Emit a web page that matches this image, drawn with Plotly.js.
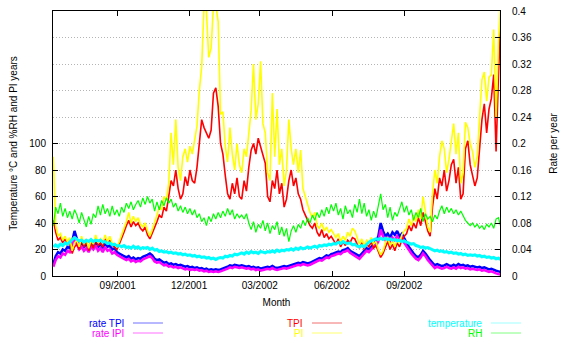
<!DOCTYPE html>
<html>
<head>
<meta charset="utf-8">
<script src="https://cdn.plot.ly/plotly-3.0.1.min.js"></script>
<style>html,body{margin:0;padding:0;background:#fff;}#chart{width:561px;height:339px;}</style>
</head>
<body>
<div id="chart"></div>
<script>
// sampling: one value every 3 days starting 2001-06-11
const startDate = '2001-06-11';
const stepDays = 3;

// rate TPI (per year, right axis)
const rateTPI = [
0.018,0.030,0.036,0.034,0.040,0.038,0.044,0.042,0.052,0.068,
0.056,0.046,0.050,0.044,0.048,0.042,0.050,0.046,0.052,0.044,
0.048,0.042,0.050,0.044,0.046,0.040,0.042,0.036,0.034,0.032,
0.030,0.028,0.030,0.026,0.028,0.025,0.027,0.026,0.029,0.030,
0.032,0.034,0.031,0.026,0.024,0.025,0.022,0.020,0.021,0.018,
0.019,0.017,0.018,0.016,0.017,0.015,0.014,0.015,0.013,0.014,
0.012,0.013,0.011,0.012,0.010,0.011,0.009,0.010,0.009,0.010,
0.009,0.010,0.011,0.013,0.014,0.016,0.015,0.017,0.016,0.015,
0.016,0.015,0.014,0.015,0.013,0.014,0.012,0.013,0.011,0.012,
0.013,0.014,0.013,0.015,0.013,0.012,0.013,0.014,0.015,0.014,
0.015,0.016,0.017,0.018,0.020,0.019,0.021,0.020,0.019,0.020,
0.022,0.024,0.025,0.027,0.026,0.029,0.031,0.030,0.033,0.034,
0.035,0.037,0.036,0.039,0.040,0.042,0.038,0.036,0.034,0.032,
0.030,0.034,0.038,0.042,0.040,0.044,0.048,0.052,0.060,0.080,
0.068,0.060,0.064,0.058,0.066,0.062,0.068,0.060,0.064,0.056,
0.050,0.044,0.038,0.034,0.030,0.028,0.032,0.038,0.034,0.028,
0.024,0.020,0.016,0.018,0.017,0.015,0.016,0.018,0.016,0.015,
0.017,0.015,0.018,0.016,0.017,0.015,0.016,0.014,0.015,0.014,
0.013,0.014,0.012,0.013,0.011,0.010,0.011,0.009,0.008,0.007,
0.006];

// rate IPI (per year, right axis)
const rateIPI = [
0.014,0.024,0.030,0.028,0.034,0.032,0.038,0.036,0.044,0.060,
0.048,0.040,0.044,0.038,0.042,0.036,0.044,0.040,0.046,0.038,
0.042,0.036,0.044,0.038,0.040,0.034,0.036,0.032,0.030,0.028,
0.026,0.024,0.026,0.022,0.024,0.021,0.023,0.022,0.025,0.026,
0.028,0.030,0.027,0.022,0.020,0.021,0.018,0.016,0.017,0.014,
0.015,0.013,0.014,0.012,0.013,0.011,0.010,0.011,0.009,0.010,
0.009,0.010,0.008,0.009,0.007,0.008,0.006,0.007,0.006,0.007,
0.006,0.007,0.008,0.010,0.011,0.013,0.012,0.014,0.013,0.012,
0.013,0.012,0.011,0.012,0.010,0.011,0.009,0.010,0.008,0.009,
0.010,0.011,0.010,0.012,0.010,0.009,0.010,0.011,0.012,0.011,
0.012,0.013,0.014,0.015,0.017,0.016,0.018,0.017,0.016,0.017,
0.019,0.021,0.022,0.024,0.023,0.026,0.028,0.027,0.030,0.031,
0.032,0.034,0.033,0.036,0.037,0.039,0.035,0.033,0.030,0.028,
0.026,0.030,0.034,0.038,0.036,0.040,0.044,0.046,0.052,0.070,
0.060,0.054,0.058,0.052,0.058,0.054,0.060,0.054,0.058,0.050,
0.044,0.040,0.034,0.030,0.026,0.024,0.028,0.034,0.030,0.024,
0.020,0.016,0.012,0.014,0.013,0.011,0.012,0.014,0.012,0.011,
0.013,0.011,0.014,0.012,0.013,0.011,0.012,0.010,0.011,0.010,
0.009,0.010,0.008,0.009,0.007,0.006,0.007,0.005,0.004,0.003,
0.002];

// TPI years (left axis)
const tpi = [
42,33,27,29,25,28,23,26,17,22,
24,20,27,22,26,19,25,21,28,23,
25,22,28,24,27,23,22,20,24,28,
33,38,42,37,41,38,40,36,34,37,
31,28,32,36,41,46,44,52,49,60,
72,68,80,66,58,62,75,68,80,72,
70,82,102,118,112,108,104,110,138,142,
128,100,92,76,62,58,70,62,74,60,
58,72,64,82,95,100,92,104,98,90,
85,60,56,72,66,80,62,70,52,58,
72,80,68,74,62,58,50,46,42,38,
36,40,33,30,35,29,32,28,30,27,
24,28,22,26,23,27,25,29,28,24,
21,25,20,24,22,26,21,23,18,14,
17,22,26,20,24,19,25,22,27,30,
32,38,34,40,36,44,38,48,42,34,
30,52,66,58,74,68,80,64,72,84,
88,70,82,58,62,96,102,84,76,68,
74,96,118,130,108,126,134,152,94,150,
196];

// PI years (left axis)
const pi = [
90,38,30,32,27,30,26,29,19,25,
27,22,30,24,28,21,27,24,31,25,
28,25,31,26,30,25,24,22,26,31,
36,41,48,40,45,41,44,39,37,40,
34,30,35,40,46,52,50,60,57,70,
108,84,118,82,72,90,96,86,98,92,
104,113,140,158,204,200,165,172,204,204,
192,122,124,98,86,112,92,80,100,84,
78,96,90,110,125,160,118,130,162,115,
108,78,72,138,90,126,84,96,68,80,
118,96,84,96,78,95,66,60,54,48,
44,48,38,36,40,34,37,33,35,32,
29,32,26,30,27,33,30,36,34,29,
24,28,23,27,25,29,24,26,20,16,
19,25,29,23,27,22,28,25,31,34,
36,43,38,46,41,50,43,60,48,37,
33,62,80,70,90,102,96,78,88,100,
115,92,108,70,78,116,112,100,94,82,
90,120,148,154,132,150,152,186,120,178,
205];

// temperature °C (left axis)
const temperature = [
22,23.5,22,24,23,25,24,26,27.5,29,
28,26.5,27,25.5,27,26,27.5,26,27,26.5,
27,25.5,26,24.5,25,23.5,24,22.5,23,22,
23,21.5,22,21,22.5,21,22,20.5,21.5,21,
21.5,20,21,19.5,20,18.5,19,18,18.5,17.5,
18,17,17.5,16.5,17,16,16.5,15.5,16,15,
15.5,14.5,15,14,14.5,13.5,14,13,13.5,12.5,
13.5,14,13.5,15,14.5,15.5,15,16.5,16,17,
17.5,16.5,18,17,18.5,17.5,18,17,18.5,18,
17.5,18.5,18,19,18,19.5,18.5,19.5,19,20,
19.5,20.5,19.5,21,20,21.5,20.5,21,22,21,
22,22.5,21.5,23,22.5,23.5,23,24,23.5,24.5,
24,25.5,24.5,26,25,24.5,25,23.5,24,22.5,
22,23,22,24,25.5,26.5,27,28,27.5,28.5,
27.5,28.5,27.5,28,27,27.5,26.5,27,26,26.5,
25.5,25,24,24.5,23,22.5,21.5,22,21,21.5,
20.5,20,19,19.5,18.5,19,18,18.5,17.5,18,
17,17.5,16.5,17,16,16.5,15.5,16,15.5,16,
15,15.5,14.5,15,14,14.5,13.5,14,13,13.5,
12.5];

// RH % (left axis)
const rh = [
38,52,47,55,45,51,44,49,43,50,
46,40,48,42,37,45,39,47,44,53,
46,54,47,51,45,53,46,50,45,52,
48,55,51,56,50,54,57,52,59,54,
60,55,58,49,56,50,57,53,59,55,
58,52,55,49,53,48,52,47,51,46,
50,44,47,41,44,38,45,41,47,43,
48,44,49,45,51,46,50,43,47,44,
46,43,47,40,35,41,33,39,36,42,
34,40,32,38,35,41,31,37,30,36,
26,34,38,33,39,36,42,38,44,40,
46,42,48,44,50,45,52,47,54,49,
55,46,51,43,53,47,50,44,54,48,
58,47,55,45,50,42,49,44,53,62,
50,54,44,52,42,48,45,51,56,48,
53,46,50,42,48,44,51,41,47,43,
45,41,46,43,49,53,47,52,48,51,
47,50,46,49,45,42,40,38,40,37,
39,36,38,35,39,37,40,36,43,44,
37];

const monthTicks = ['2001-09-01','2001-12-01','2002-03-01','2002-06-01','2002-09-01'];
const monthLabels = ['09/2001','12/2001','03/2002','06/2002','09/2002'];
const leftTicks = [0,20,40,60,80,100];
const rateTicks = [0,0.04,0.08,0.12,0.16,0.2,0.24,0.28,0.32,0.36,0.4];
const rateLabels = ['0','0.04','0.08','0.12','0.16','0.2','0.24','0.28','0.32','0.36','0.4'];

function makeDates(n) {
  const t0 = Date.parse(startDate + 'T00:00:00Z');
  const out = [];
  for (let i = 0; i < n; i++) {
    out.push(new Date(t0 + i * stepDays * 86400000).toISOString().slice(0, 10));
  }
  return out;
}
const dates = makeDates(tpi.length);

const FONT = 'Liberation Sans, Arial, Helvetica, sans-serif';
const series = [
  {name: 'rate TPI', y: rateTPI, color: '#0000ff', axis: 'y', sample: '#7070ff', w: 2.5},
  {name: 'rate IPI', y: rateIPI, color: '#ff00ff', axis: 'y', sample: '#ff70ff', w: 2.5},
  {name: 'TPI', y: tpi, color: '#ff0000', axis: 'y2', sample: '#f07070', w: 1.6},
  {name: 'PI', y: pi, color: '#ffff00', axis: 'y2', sample: '#ffff70', w: 1.6},
  {name: 'temperature', y: temperature, color: '#00ffff', axis: 'y2', sample: '#a0ffff', w: 3},
  {name: 'RH', y: rh, color: '#00ff00', axis: 'y2', sample: '#80ff80', w: 1.2}
];

const traces = series.map(s => ({
  type: 'scatter', mode: 'lines', name: s.name,
  x: dates, y: s.y, yaxis: s.axis,
  line: {color: s.color, width: s.w}, hoverinfo: 'skip'
}));

// legend (gnuplot style, below the plot)
const legendPos = [
  {tx: 0.1633, y: -0.1774, l0: 0.179, l1: 0.246},
  {tx: 0.1633, y: -0.2151, l0: 0.179, l1: 0.246},
  {tx: 0.5638, y: -0.1774, l0: 0.5794, l1: 0.6465},
  {tx: 0.5638, y: -0.2151, l0: 0.5794, l1: 0.6465},
  {tx: 0.9642, y: -0.1774, l0: 0.9799, l1: 1.047},
  {tx: 0.9642, y: -0.2151, l0: 0.9799, l1: 1.047}
];
const annotations = series.map((s, i) => ({
  xref: 'paper', yref: 'paper', x: legendPos[i].tx, y: legendPos[i].y,
  xanchor: 'right', yanchor: 'middle', showarrow: false, text: s.name,
  font: {family: FONT, size: 10, color: s.color}
}));
const shapes = series.map((s, i) => ({
  type: 'line', xref: 'paper', yref: 'paper',
  x0: legendPos[i].l0, x1: legendPos[i].l1, y0: legendPos[i].y, y1: legendPos[i].y,
  line: {color: s.sample, width: 1}
}));

const layout = {
  width: 561, height: 339,
  margin: {l: 53, r: 61, t: 11, b: 63, pad: 0},
  paper_bgcolor: '#ffffff', plot_bgcolor: '#ffffff',
  font: {family: FONT, size: 10, color: '#000000'},
  showlegend: false,
  xaxis: {
    type: 'date', range: ['2001-06-10 14:00', '2003-01-01'],
    tickvals: monthTicks, ticktext: monthLabels,
    ticks: 'inside', ticklen: 5, tickcolor: '#000', tickwidth: 1,
    showline: true, linecolor: '#000', linewidth: 1, mirror: 'ticks',
    showgrid: false, zeroline: false,
    tickfont: {family: FONT, size: 10, color: '#000'},
    title: {text: 'Month', font: {family: FONT, size: 10, color: '#000'}, standoff: 8}
  },
  yaxis: {
    side: 'right', range: [0, 0.4],
    tickvals: rateTicks, ticktext: rateLabels,
    ticks: 'inside', ticklen: 5, tickcolor: '#000',
    showline: true, linecolor: '#000', linewidth: 1,
    showgrid: true, gridcolor: '#b4b4b4', griddash: '1px,2px', gridwidth: 1,
    zeroline: false, ticklabelstandoff: 9,
    tickfont: {family: FONT, size: 10, color: '#000'},
    title: {text: 'Rate per year', font: {family: FONT, size: 10, color: '#000'}, standoff: 19}
  },
  yaxis2: {
    overlaying: 'y', side: 'left', range: [0, 200],
    tickvals: leftTicks, ticks: 'inside', ticklen: 5, tickcolor: '#000',
    showline: true, linecolor: '#000', linewidth: 1,
    showgrid: false, zeroline: false, ticklabelstandoff: 4,
    tickfont: {family: FONT, size: 10, color: '#000'},
    title: {text: 'Temperature °C and %RH and PI years', font: {family: FONT, size: 10, color: '#000'}, standoff: 9}
  },
  annotations: annotations,
  shapes: shapes
};

Plotly.newPlot('chart', traces, layout, {staticPlot: true, displayModeBar: false});
</script>
</body>
</html>
